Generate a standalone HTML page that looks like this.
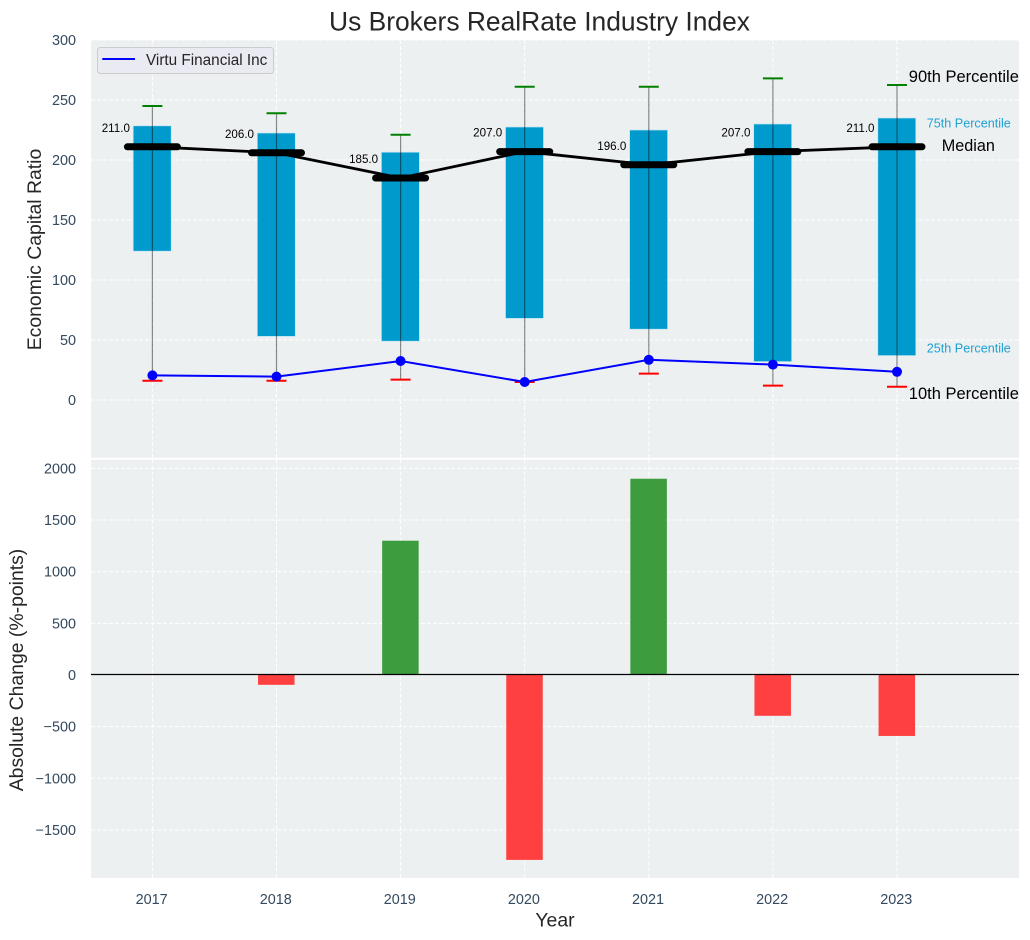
<!DOCTYPE html>
<html lang="en">
<head>
<meta charset="utf-8">
<title>Us Brokers RealRate Industry Index</title>
<style>
html,body{margin:0;padding:0;background:#fff;}
#chart{display:block;width:1030px;height:940px;font-family:"Liberation Sans",Arial,sans-serif;}
</style>
</head>
<body>
<svg id="chart" xmlns="http://www.w3.org/2000/svg" width="1030" height="940" viewBox="0 0 1030 940"></svg>
<script>
const years = [2017, 2018, 2019, 2020, 2021, 2022, 2023];
const p90 = [245, 239, 221, 261, 261, 268, 262.5];
const p75 = [228.5, 222.5, 206.5, 227.5, 225, 230, 235];
const medians = [211, 206, 185, 207, 196, 207, 211];
const p25 = [124, 53, 49, 68, 59, 32, 37];
const p10 = [16, 16, 17, 15, 22, 12, 11];
const company = [20.5, 19.5, 32.5, 15, 33.5, 29.5, 23.5];
const changes = [0, -95, 1300, -1790, 1900, -395, -590];
const topTicks = [0, 50, 100, 150, 200, 250, 300];
const bottomTicks = [-1500, -1000, -500, 0, 500, 1000, 1500, 2000];

const NS = 'http://www.w3.org/2000/svg';
const svg = document.getElementById('chart');
const LEFT = 91, RIGHT = 1019;
const TOP1 = 40, BOT1 = 457.8, TOP2 = 459.8, BOT2 = 878;

function x(year) { return 152.4 + (year - 2017) * 124.1; }
function yTop(v) { return 400 - v * 1.2; }
function yBot(v) { return 675 - v * 0.1033; }

function make(tag, attrs, text) {
  const el = document.createElementNS(NS, tag);
  for (const k in attrs) el.setAttribute(k, attrs[k]);
  if (text !== undefined) el.textContent = text;
  svg.appendChild(el);
  return el;
}
function named(el, name) {
  
  
  return el;
}
function fmtTick(v) { return v < 0 ? '\u2212' + Math.abs(v) : String(v); }

const GRID = { stroke: '#ffffff', 'stroke-width': 1, 'stroke-dasharray': '4 2', 'stroke-opacity': 0.95 };
function grid(x1, y1, x2, y2, name) {
  named(make('line', Object.assign({ x1: x1, y1: y1, x2: x2, y2: y2 }, GRID)), name);
}

/* backgrounds */
named(make('rect', { x: LEFT, y: TOP1, width: RIGHT - LEFT, height: BOT1 - TOP1, fill: '#ecf0f1' }), 'top-plot-area');
named(make('rect', { x: LEFT, y: TOP2, width: RIGHT - LEFT, height: BOT2 - TOP2, fill: '#ecf0f1' }), 'bottom-plot-area');

/* title */
named(make('text', { x: 539.5, y: 30.5, 'text-anchor': 'middle', 'font-size': 26.4, fill: '#262626' }, 'Us Brokers RealRate Industry Index'), 'chart-title');

/* grids and tick labels */
years.forEach(function (yr) {
  grid(x(yr), TOP1, x(yr), BOT1, 'top-grid-x-' + yr);
  grid(x(yr), TOP2, x(yr), BOT2, 'bottom-grid-x-' + yr);
  named(make('text', { x: x(yr) - 0.8, y: 904, 'text-anchor': 'middle', 'font-size': 14.4, fill: '#34495e' }, String(yr)), 'x-tick-' + yr);
});
topTicks.forEach(function (t) {
  grid(LEFT, yTop(t), RIGHT, yTop(t), 'top-grid-y-' + t);
  named(make('text', { x: 76, y: yTop(t) + 5, 'text-anchor': 'end', 'font-size': 14.4, fill: '#34495e' }, fmtTick(t)), 'top-y-tick-' + t);
});
bottomTicks.forEach(function (t) {
  grid(LEFT, yBot(t), RIGHT, yBot(t), 'bottom-grid-y-' + t);
  named(make('text', { x: 76, y: yBot(t) + 5, 'text-anchor': 'end', 'font-size': 14.4, fill: '#34495e' }, fmtTick(t)), 'bottom-y-tick-' + t);
});

/* axis titles */
named(make('text', { x: 0, y: 0, transform: 'translate(41,249.5) rotate(-90)', 'text-anchor': 'middle', 'font-size': 19.4, fill: '#262626' }, 'Economic Capital Ratio'), 'top-y-axis-title');
named(make('text', { x: 0, y: 0, transform: 'translate(23,670) rotate(-90)', 'text-anchor': 'middle', 'font-size': 19.4, fill: '#262626' }, 'Absolute Change (%-points)'), 'bottom-y-axis-title');
named(make('text', { x: 555, y: 926.5, 'text-anchor': 'middle', 'font-size': 19.4, fill: '#262626' }, 'Year'), 'x-axis-title');

/* percentile boxes */
const BOX_W = 38;
years.forEach(function (yr, i) {
  named(make('rect', {
    x: x(yr) - BOX_W / 2 - 0.2, y: yTop(p75[i]), width: BOX_W, height: yTop(p25[i]) - yTop(p75[i]),
    fill: '#009acd', stroke: '#bfe6f3', 'stroke-width': 0.7
  }), 'percentile-box-' + yr);
});

/* whiskers and caps */
years.forEach(function (yr, i) {
  named(make('line', { x1: x(yr), x2: x(yr), y1: yTop(p90[i]), y2: yTop(p10[i]), stroke: '#000', 'stroke-opacity': 0.45, 'stroke-width': 1.2 }), 'whisker-' + yr);
  named(make('line', { x1: x(yr) - 10, x2: x(yr) + 10, y1: yTop(p90[i]), y2: yTop(p90[i]), stroke: '#008000', 'stroke-width': 2 }), 'cap-90th-' + yr);
  named(make('line', { x1: x(yr) - 10, x2: x(yr) + 10, y1: yTop(p10[i]), y2: yTop(p10[i]), stroke: '#ff0000', 'stroke-width': 2 }), 'cap-10th-' + yr);
});

/* median line */
named(make('polyline', {
  points: years.map(function (yr, i) { return x(yr) + ',' + yTop(medians[i]); }).join(' '),
  fill: 'none', stroke: '#000', 'stroke-width': 2.8
}), 'median-line');
years.forEach(function (yr, i) {
  named(make('line', { x1: x(yr) - 25, x2: x(yr) + 25, y1: yTop(medians[i]), y2: yTop(medians[i]), stroke: '#000', 'stroke-width': 7, 'stroke-linecap': 'round' }), 'median-marker-' + yr);
  named(make('text', { x: x(yr) - 22.5, y: yTop(medians[i]) - 15, 'text-anchor': 'end', 'font-size': 11.6, fill: '#000' }, medians[i].toFixed(1)), 'median-label-' + yr);
});

/* company series */
named(make('polyline', {
  points: years.map(function (yr, i) { return x(yr) + ',' + yTop(company[i]); }).join(' '),
  fill: 'none', stroke: '#0000ff', 'stroke-width': 2
}), 'company-line');
years.forEach(function (yr, i) {
  named(make('circle', { cx: x(yr), cy: yTop(company[i]), r: 5, fill: '#0000ff' }), 'company-point-' + yr);
});

/* annotations for the last year */
const last = years.length - 1;
const lastX = x(years[last]);
named(make('text', { x: lastX + 11.8, y: yTop(p90[last]) - 3, 'font-size': 16.5, fill: '#000' }, '90th Percentile'), 'label-90th-percentile');
named(make('text', { x: lastX + 29.8, y: yTop(p75[last]) + 9.5, 'font-size': 12.6, fill: '#1ea1d2' }, '75th Percentile'), 'label-75th-percentile');
named(make('text', { x: lastX + 44.8, y: yTop(medians[last]) + 4, 'font-size': 16.2, fill: '#000' }, 'Median'), 'label-median');
named(make('text', { x: lastX + 29.8, y: yTop(p25[last]) - 3, 'font-size': 12.6, fill: '#1ea1d2' }, '25th Percentile'), 'label-25th-percentile');
named(make('text', { x: lastX + 11.8, y: yTop(p10[last]) + 12, 'font-size': 16.5, fill: '#000' }, '10th Percentile'), 'label-10th-percentile');

/* legend */
const legend = make('rect', { x: 97.5, y: 47.5, width: 176, height: 26, rx: 3, fill: '#eaeaf2', stroke: '#cccccc', 'stroke-width': 1 });


named(make('line', { x1: 102.3, x2: 135, y1: 59, y2: 59, stroke: '#0000ff', 'stroke-width': 2 }), 'legend-line');
named(make('text', { x: 146, y: 65, 'font-size': 15.3, fill: '#262626' }, 'Virtu Financial Inc'), 'legend-entry');

/* change bars */
const BAR_W = 36.5;
years.forEach(function (yr, i) {
  const v = changes[i];
  if (v === 0) return;
  named(make('rect', {
    x: x(yr) - BAR_W / 2 - 0.2, y: Math.min(yBot(v), yBot(0)), width: BAR_W, height: Math.abs(yBot(v) - yBot(0)),
    fill: v > 0 ? '#3c9c3e' : '#ff4040'
  }), 'change-bar-' + yr);
});
named(make('line', { x1: LEFT, x2: RIGHT, y1: yBot(0) - 0.5, y2: yBot(0) - 0.5, stroke: '#000', 'stroke-width': 1.2 }), 'zero-line');
</script>
</body>
</html>
